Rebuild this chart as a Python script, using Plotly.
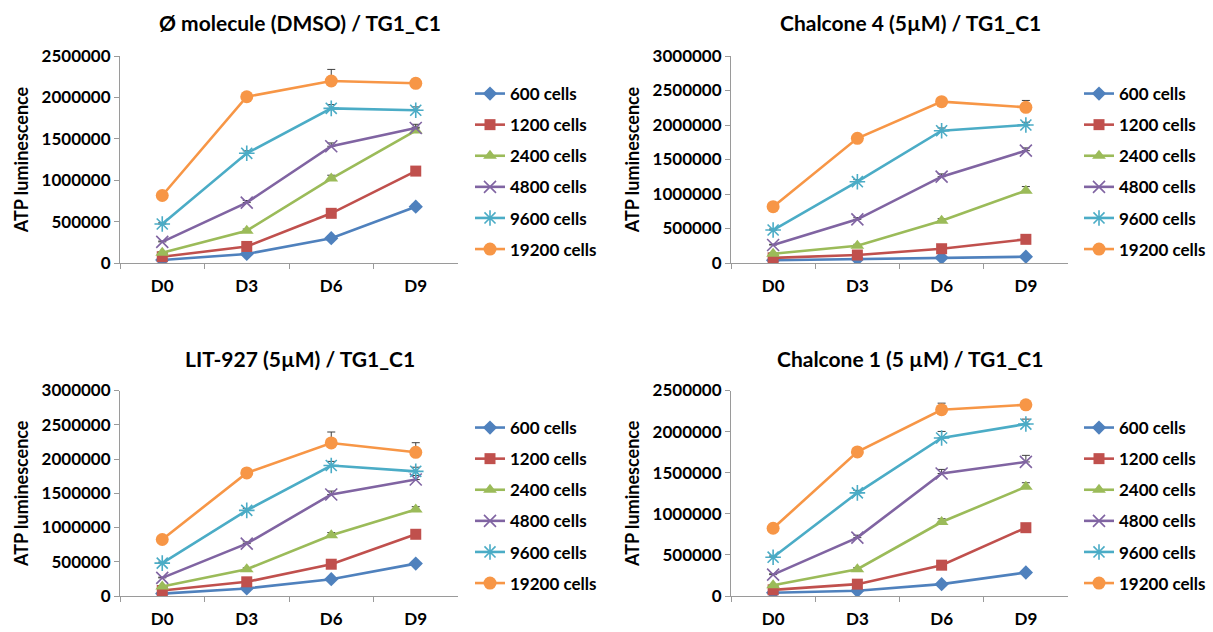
import plotly.graph_objects as go

days = ["D0", "D3", "D6", "D9"]
series_names = ["600 cells", "1200 cells", "2400 cells", "4800 cells", "9600 cells", "19200 cells"]

titles = [
    "Ø molecule (DMSO) / TG1_C1",
    "Chalcone 4 (5µM) / TG1_C1",
    "LIT-927 (5µM) / TG1_C1",
    "Chalcone 1 (5 µM) / TG1_C1",
]

# Panel 1: Ø molecule (DMSO)
dmso_600 = [36000, 109000, 300000, 680000]
dmso_1200 = [76000, 200000, 600000, 1110000]
dmso_2400 = [125000, 390000, 1020000, 1600000]
dmso_4800 = [255000, 730000, 1410000, 1630000]
dmso_9600 = [471000, 1325000, 1868000, 1845000]
dmso_19200 = [815000, 2008000, 2198000, 2170000]
dmso_err_600 = [5000, 10000, 25000, 30000]
dmso_err_1200 = [5000, 15000, 30000, 40000]
dmso_err_2400 = [8000, 20000, 40000, 40000]
dmso_err_4800 = [10000, 25000, 40000, 45000]
dmso_err_9600 = [15000, 30000, 45000, 40000]
dmso_err_19200 = [20000, 45000, 140000, 50000]

# Panel 2: Chalcone 4
c4_600 = [40000, 58000, 77000, 91000]
c4_1200 = [75000, 116000, 207000, 343000]
c4_2400 = [135000, 251000, 613000, 1048000]
c4_4800 = [261000, 633000, 1251000, 1628000]
c4_9600 = [478000, 1178000, 1917000, 2000000]
c4_19200 = [816000, 1807000, 2338000, 2256000]
c4_err_600 = [4000, 5000, 8000, 8000]
c4_err_1200 = [5000, 10000, 15000, 20000]
c4_err_2400 = [8000, 20000, 30000, 60000]
c4_err_4800 = [10000, 25000, 40000, 40000]
c4_err_9600 = [15000, 30000, 40000, 40000]
c4_err_19200 = [20000, 30000, 40000, 100000]

# Panel 3: LIT-927
lit_600 = [35000, 110000, 245000, 473000]
lit_1200 = [80000, 207000, 464000, 901000]
lit_2400 = [140000, 391000, 886000, 1264000]
lit_4800 = [265000, 765000, 1482000, 1700000]
lit_9600 = [480000, 1250000, 1905000, 1820000]
lit_19200 = [825000, 1797000, 2234000, 2098000]
lit_err_600 = [4000, 10000, 20000, 30000]
lit_err_1200 = [5000, 15000, 30000, 40000]
lit_err_2400 = [8000, 20000, 40000, 40000]
lit_err_4800 = [10000, 25000, 50000, 60000]
lit_err_9600 = [15000, 30000, 60000, 60000]
lit_err_19200 = [20000, 30000, 160000, 140000]

# Panel 4: Chalcone 1
c1_600 = [40000, 63000, 144000, 286000]
c1_1200 = [75000, 144000, 375000, 831000]
c1_2400 = [130000, 326000, 900000, 1328000]
c1_4800 = [260000, 710000, 1490000, 1631000]
c1_9600 = [472000, 1255000, 1922000, 2092000]
c1_19200 = [824000, 1753000, 2266000, 2326000]
c1_err_600 = [4000, 8000, 15000, 20000]
c1_err_1200 = [5000, 10000, 25000, 30000]
c1_err_2400 = [8000, 20000, 40000, 50000]
c1_err_4800 = [10000, 30000, 50000, 80000]
c1_err_9600 = [15000, 30000, 80000, 60000]
c1_err_19200 = [20000, 30000, 80000, 40000]

y_max = [2500000, 3000000, 3000000, 2500000]

panels = [
    [dmso_600, dmso_1200, dmso_2400, dmso_4800, dmso_9600, dmso_19200],
    [c4_600, c4_1200, c4_2400, c4_4800, c4_9600, c4_19200],
    [lit_600, lit_1200, lit_2400, lit_4800, lit_9600, lit_19200],
    [c1_600, c1_1200, c1_2400, c1_4800, c1_9600, c1_19200],
]
panel_errs = [
    [dmso_err_600, dmso_err_1200, dmso_err_2400, dmso_err_4800, dmso_err_9600, dmso_err_19200],
    [c4_err_600, c4_err_1200, c4_err_2400, c4_err_4800, c4_err_9600, c4_err_19200],
    [lit_err_600, lit_err_1200, lit_err_2400, lit_err_4800, lit_err_9600, lit_err_19200],
    [c1_err_600, c1_err_1200, c1_err_2400, c1_err_4800, c1_err_9600, c1_err_19200],
]

colors = ["#4F81BD", "#C0504D", "#9BBB59", "#8064A2", "#4BACC6", "#F79646"]
symbols = ["diamond", "square", "triangle-up", "x-thin-open", "asterisk-open", "circle"]
msizes = [11, 11, 12, 12, 13, 13]

W, H = 1213, 632
FONT = "Lato, 'Open Sans', sans-serif"

# pixel layout of plot areas (left, right, top, bottom)
areas = [
    (120, 458, 56, 263),
    (731, 1068, 56, 263),
    (120, 458, 390.5, 596),
    (731, 1068, 390.5, 596),
]
title_pos = [(300, 23), (910, 23), (300, 358), (910, 358)]
legend_pos = [(470, 76), (1079, 76), (470, 410), (1079, 410)]

fig = go.Figure()
layout = dict(
    template=go.layout.Template(),
    width=W, height=H, autosize=False,
    margin=dict(l=0, r=0, t=0, b=0, pad=0),
    paper_bgcolor="white", plot_bgcolor="white",
    font=dict(family=FONT, color="#000000", size=15),
    showlegend=True,
    annotations=[],
)

for p in range(4):
    ax = "" if p == 0 else str(p + 1)
    leg = "legend" if p == 0 else "legend" + str(p + 1)
    for i, name in enumerate(series_names):
        fig.add_trace(go.Scatter(
            x=days, y=panels[p][i], name=name,
            mode="lines+markers",
            xaxis="x" + ax, yaxis="y" + ax,
            legend=leg, legendgroup=leg + name,
            line=dict(color=colors[i], width=2.6),
            marker=dict(symbol=symbols[i], size=msizes[i], color=colors[i],
                        line=dict(color=colors[i], width=1.6 if i in (3, 4) else 0)),
            error_y=dict(type="data", array=panel_errs[p][i], arrayminus=[0] * 4,
                         symmetric=False, color="#404040", thickness=1, width=4),
        ))
    l, r, t, b = areas[p]
    layout["xaxis" + ax] = dict(
        domain=[l / W, r / W], anchor="y" + ax, automargin=False,
        type="category", categoryorder="array", categoryarray=days,
        range=[-0.5, 3.5],
        showline=True, linecolor="#9a9a9a", linewidth=1,
        ticks="outside", tickson="boundaries", ticklen=5, tickcolor="#9a9a9a",
        showgrid=False, zeroline=False,
        tickfont=dict(family=FONT, size=17, color="#000000", weight="bold"),
        ticklabelstandoff=8,
    )
    layout["yaxis" + ax] = dict(
        domain=[1 - b / H, 1 - t / H], anchor="x" + ax, automargin=False,
        range=[0, y_max[p]], dtick=500000, tickformat="d",
        showline=True, linecolor="#9a9a9a", linewidth=1,
        ticks="outside", ticklen=5, tickcolor="#9a9a9a",
        showgrid=False, zeroline=False,
        tickfont=dict(family=FONT, size=17, color="#000000", weight="bold"),
        title=dict(text="ATP luminescence", standoff=8,
                   font=dict(family=FONT, size=18, color="#000000", weight="bold")),
    )
    lx, ly = legend_pos[p]
    layout[leg] = dict(
        x=lx / W, y=1 - ly / H, xanchor="left", yanchor="top",
        font=dict(family=FONT, size=17, color="#000000", weight="bold"),
        tracegroupgap=6, bgcolor="rgba(0,0,0,0)", borderwidth=0,
    )
    tx, ty = title_pos[p]
    layout["annotations"].append(dict(
        text=titles[p], x=tx / W, y=1 - ty / H, xref="paper", yref="paper",
        xanchor="center", yanchor="middle", showarrow=False,
        font=dict(family=FONT, size=21, color="#000000", weight="bold"),
    ))

fig.update_layout(**layout)
fig.write_html(
    "out.html",
    config={"displayModeBar": False},
    post_script="document.body.style.margin='0';document.body.style.padding='0';"
    "window.dispatchEvent(new Event('resize'));",
)
